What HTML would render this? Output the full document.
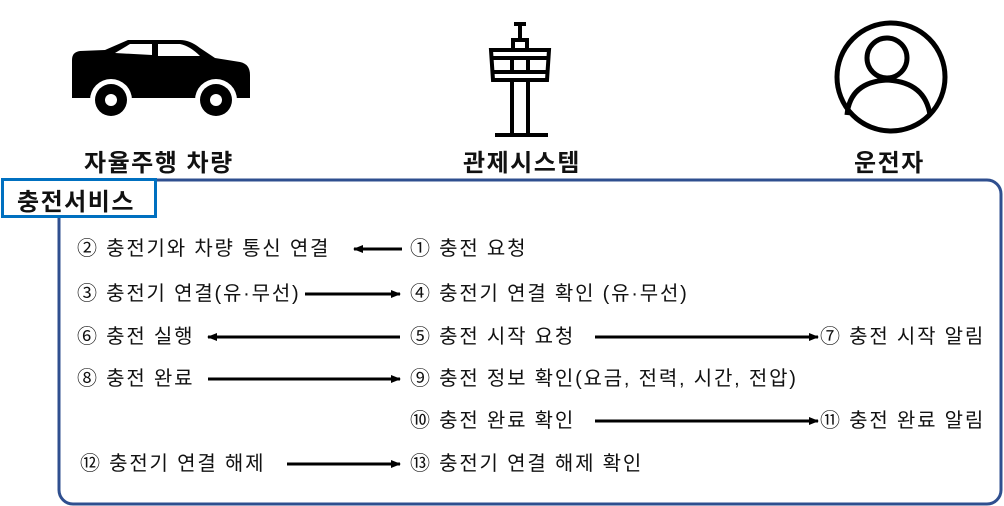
<!DOCTYPE html>
<html><head><meta charset="utf-8"><style>
body{margin:0;width:1004px;height:506px;background:#fff;position:relative;overflow:hidden;font-family:"Liberation Sans","Noto Sans CJK KR",sans-serif;}
.t{position:absolute;font-size:20px;color:#111;white-space:nowrap;line-height:20px;letter-spacing:1.8px}
.h{position:absolute;font-size:24px;font-weight:bold;color:#111;white-space:nowrap;letter-spacing:1.5px}
</style></head><body>
<svg width="1004" height="506" style="position:absolute;left:0;top:0">
<defs><marker id="a" markerWidth="10" markerHeight="8" refX="9" refY="4" orient="auto" markerUnits="userSpaceOnUse"><path d="M0,0 L10,4 L0,8z" fill="#000"/></marker></defs>
<rect x="59" y="180" width="942" height="324" rx="14" fill="none" stroke="#2f4f8f" stroke-width="3"/>
<rect x="2.5" y="179.5" width="153" height="37" fill="#fff" stroke="#0070c0" stroke-width="3"/>
<path d="M72,60 Q72,52 80,51 L105,50 L128,40 L180,40 Q190,40 200,48 L215,58 L240,62 Q250,64 250,75 L250,98 L72,98 Z" fill="#000"/>
<path d="M115,53 L130,44 L152,44 L152,55 Z M158,44 L180,44 Q190,46 200,56 L158,56 Z" fill="#fff"/>
<circle cx="111" cy="100" r="21" fill="#fff"/><circle cx="111" cy="100" r="16" fill="#000"/><circle cx="111" cy="100" r="6" fill="#fff"/>
<circle cx="216" cy="100" r="21" fill="#fff"/><circle cx="216" cy="100" r="16" fill="#000"/><circle cx="216" cy="100" r="6" fill="#fff"/>
<g fill="none" stroke="#000" stroke-width="4">
<path d="M514,24 L526,24 M520,24 L520,40 M513,48 L513,40 L527,40 L527,48"/>
<path d="M491,50 L549,50 L547,80 L493,80 Z M491,58 L549,58 M493,72 L547,72 M512,58 L512,72 M528,58 L528,72"/>
<path d="M512,80 L512,134 M528,80 L528,134 M495,135 L548,135"/>
</g>
<g fill="none" stroke="#000" stroke-width="5">
<circle cx="891" cy="77" r="54"/>
<circle cx="887" cy="58" r="20"/>
<path d="M847,115 Q850,82 887,80 Q925,82 930,115"/>
</g>
<g stroke="#000" stroke-width="3">
<line x1="402" y1="249" x2="354" y2="249" marker-end="url(#a)"/>
<line x1="305" y1="294" x2="400" y2="294" marker-end="url(#a)"/>
<line x1="400" y1="337" x2="208" y2="337" marker-end="url(#a)"/>
<line x1="595" y1="337" x2="818" y2="337" marker-end="url(#a)"/>
<line x1="208" y1="379" x2="400" y2="379" marker-end="url(#a)"/>
<line x1="595" y1="421" x2="818" y2="421" marker-end="url(#a)"/>
<line x1="287" y1="464" x2="400" y2="464" marker-end="url(#a)"/>
</g>
</svg>
<div class="h" style="left:84px;top:143px">자율주행 차량</div>
<div class="h" style="left:463px;top:143px">관제시스템</div>
<div class="h" style="left:854px;top:143px">운전자</div>
<div class="h" style="left:17px;top:182px">충전서비스</div>
<div class="t" style="left:77px;top:239px">② 충전기와 차량 통신 연결</div>
<div class="t" style="left:410px;top:239px">① 충전 요청</div>
<div class="t" style="left:77px;top:284px">③ 충전기 연결(유·무선)</div>
<div class="t" style="left:410px;top:284px">④ 충전기 연결 확인 (유·무선)</div>
<div class="t" style="left:77px;top:327px">⑥ 충전 실행</div>
<div class="t" style="left:410px;top:327px">⑤ 충전 시작 요청</div>
<div class="t" style="left:820px;top:327px">⑦ 충전 시작 알림</div>
<div class="t" style="left:77px;top:369px">⑧ 충전 완료</div>
<div class="t" style="left:410px;top:369px">⑨ 충전 정보 확인(요금, 전력, 시간, 전압)</div>
<div class="t" style="left:410px;top:411px">⑩ 충전 완료 확인</div>
<div class="t" style="left:820px;top:411px">⑪ 충전 완료 알림</div>
<div class="t" style="left:80px;top:454px">⑫ 충전기 연결 해제</div>
<div class="t" style="left:410px;top:454px">⑬ 충전기 연결 해제 확인</div>
</body></html>
